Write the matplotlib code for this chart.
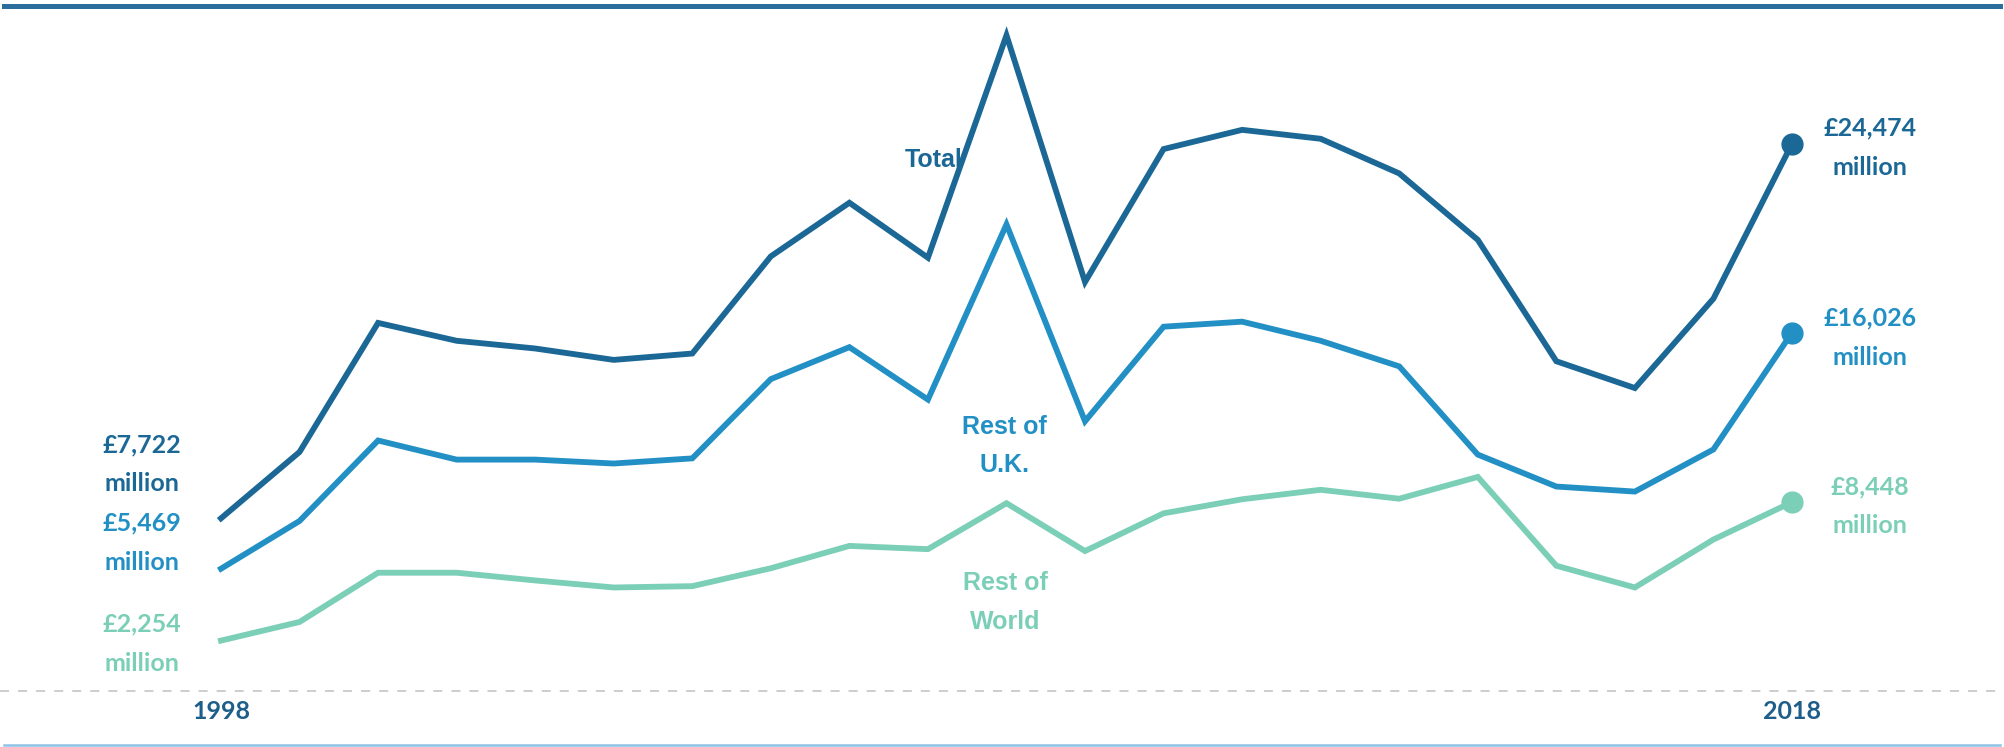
import numpy as np
import matplotlib.pyplot as plt
from matplotlib.lines import Line2D

years = list(range(1998, 2019))
total = [7722, 10690, 16465, 15665, 15320, 14810, 15095, 19440, 21840, 19380, 29330,
         18295, 24240, 25100, 24700, 23150, 20180, 14750, 13550, 17550, 24474]
rest_uk = [5469, 7605, 11205, 10350, 10350, 10175, 10405, 13950, 15380, 13035, 20870,
           12065, 16295, 16520, 15665, 14520, 10575, 9145, 8920, 10805, 16026]
rest_world = [2254, 3087, 5290, 5290, 4945, 4630, 4690, 5490, 6490, 6345, 8400,
              6260, 7947, 8576, 9000, 8600, 9575, 5603, 4631, 6775, 8448]

c_total = '#1b6896'
c_uk = '#2290c4'
c_row = '#7ccfb7'

fig = plt.figure(figsize=(20.04, 7.47), dpi=100)
ax = fig.add_axes([0, 0, 1, 1])
ax.set_xlim(1995.187, 2020.699)
ax.set_ylim(-2505, 30908)
ax.axis('off')

# frame lines
fig.add_artist(Line2D([0.002, 0.998], [0.992, 0.992], color='#2b6e9e', lw=3.6, transform=fig.transFigure))
fig.add_artist(Line2D([0.002, 0.998], [0.003, 0.003], color='#8fc3e6', lw=1.8, transform=fig.transFigure))
ax.axhline(0, color='#c9c9c9', lw=1.3, ls=(0, (5, 5)))

series = [(total, c_total), (rest_uk, c_uk), (rest_world, c_row)]
for vals, col in series:
    ax.plot(years, vals, color=col, lw=4.2, solid_joinstyle='miter', zorder=3)
    ax.plot(years[-1], vals[-1], 'o', color=col, ms=15, zorder=4)

num_font = dict(family='Lato', weight='bold', fontsize=18)
# start / end value labels (offsets in pixels)
left_off = [(-79, 54), (-79, 26), (-79, -3)]
right_off = [(78, -4), (78, -5), (78, -4)]
for (vals, col), lo, ro in zip(series, left_off, right_off):
    ax.annotate('£{:,}\nmillion'.format(vals[0]), (years[0], vals[0]), xytext=lo,
                textcoords='offset pixels', ha='center', va='center', color=col,
                linespacing=1.85, **num_font)
    ax.annotate('£{:,}\nmillion'.format(vals[-1]), (years[-1], vals[-1]), xytext=ro,
                textcoords='offset pixels', ha='center', va='center', color=col,
                linespacing=1.85, **num_font)

lab_font = dict(family='Liberation Sans', weight='bold', fontsize=18)
ax.text(2006.71, 23750, 'Total', color=c_total, ha='left', va='center', zorder=2, **lab_font)
ax.text(2007.98, 10960, 'Rest of\nU.K.', color=c_uk, ha='center', va='center',
        linespacing=1.7, **lab_font)
ax.text(2007.99, 3960, 'Rest of\nWorld', color=c_row, ha='center', va='center',
        linespacing=1.75, **lab_font)

# year labels
for yr in [years[0], years[-1]]:
    ax.text(yr, -930, str(yr), color='#1d5f8a', ha='center', va='center', **num_font)

fig.savefig('out.png', dpi=100)
